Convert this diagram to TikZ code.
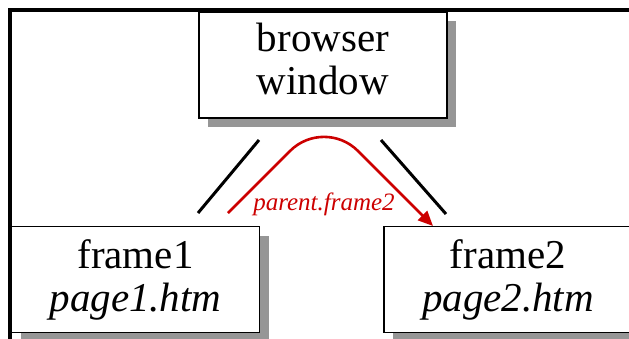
\documentclass[tikz,border=0pt]{standalone}
\usepackage{fontspec}
\setmainfont{Liberation Serif}
\newfontfamily\timesfont{Liberation Serif}
\usetikzlibrary{shadows,arrows.meta}
\definecolor{shadowgray}{RGB}{150,150,150}
\definecolor{linkred}{RGB}{204,0,0}
\tikzset{
  winbox/.style={draw=black, line width=1.5pt, fill=white,
    minimum width=248pt, minimum height=106pt, inner sep=0pt,
    align=center, font=\timesfont\fontsize{41}{43}\selectfont,
    drop shadow={shadow xshift=9pt, shadow yshift=-9pt, fill=shadowgray, opacity=1}},
  bar/.style={line width=3pt},
  link/.style={draw=linkred, line width=2.6pt, rounded corners=48pt,
    -{Triangle[length=15pt,width=13pt]}},
}
\begin{document}
\begin{tikzpicture}[x=1pt,y=-1pt]
\useasboundingbox (0,0) rectangle (629,338);
\clip (0,0) rectangle (629,338);
% outer window edge
\draw[line width=4pt] (10,360) -- (10,10) -- (660,10);
\node[winbox] (browser) at (323,65) {browser\\window\strut};
\node[winbox] (frame1) at (135.5,279.5) {frame1\\\textit{page1.htm}};
\node[winbox] (frame2) at (508,279.5) {frame2\\\textit{page2.htm}};
% split marks
\coordinate (l1) at (198,213);
\coordinate (l2) at (259,140);
\coordinate (r1) at (381,140);
\coordinate (r2) at (446,214);
\draw[bar] (l1) -- (l2);
\draw[bar] (r1) -- (r2);
% reference from frame1 to frame2
\coordinate (from) at (228,213);
\coordinate (apex) at (324,117);
\coordinate (to) at (433,226);
\draw[link] (from) -- (apex) -- (to);
\node[font=\timesfont\fontsize{25}{25}\selectfont\itshape, text=linkred, anchor=base] (ref) at (324,210) {parent.frame2};
\end{tikzpicture}
\end{document}
